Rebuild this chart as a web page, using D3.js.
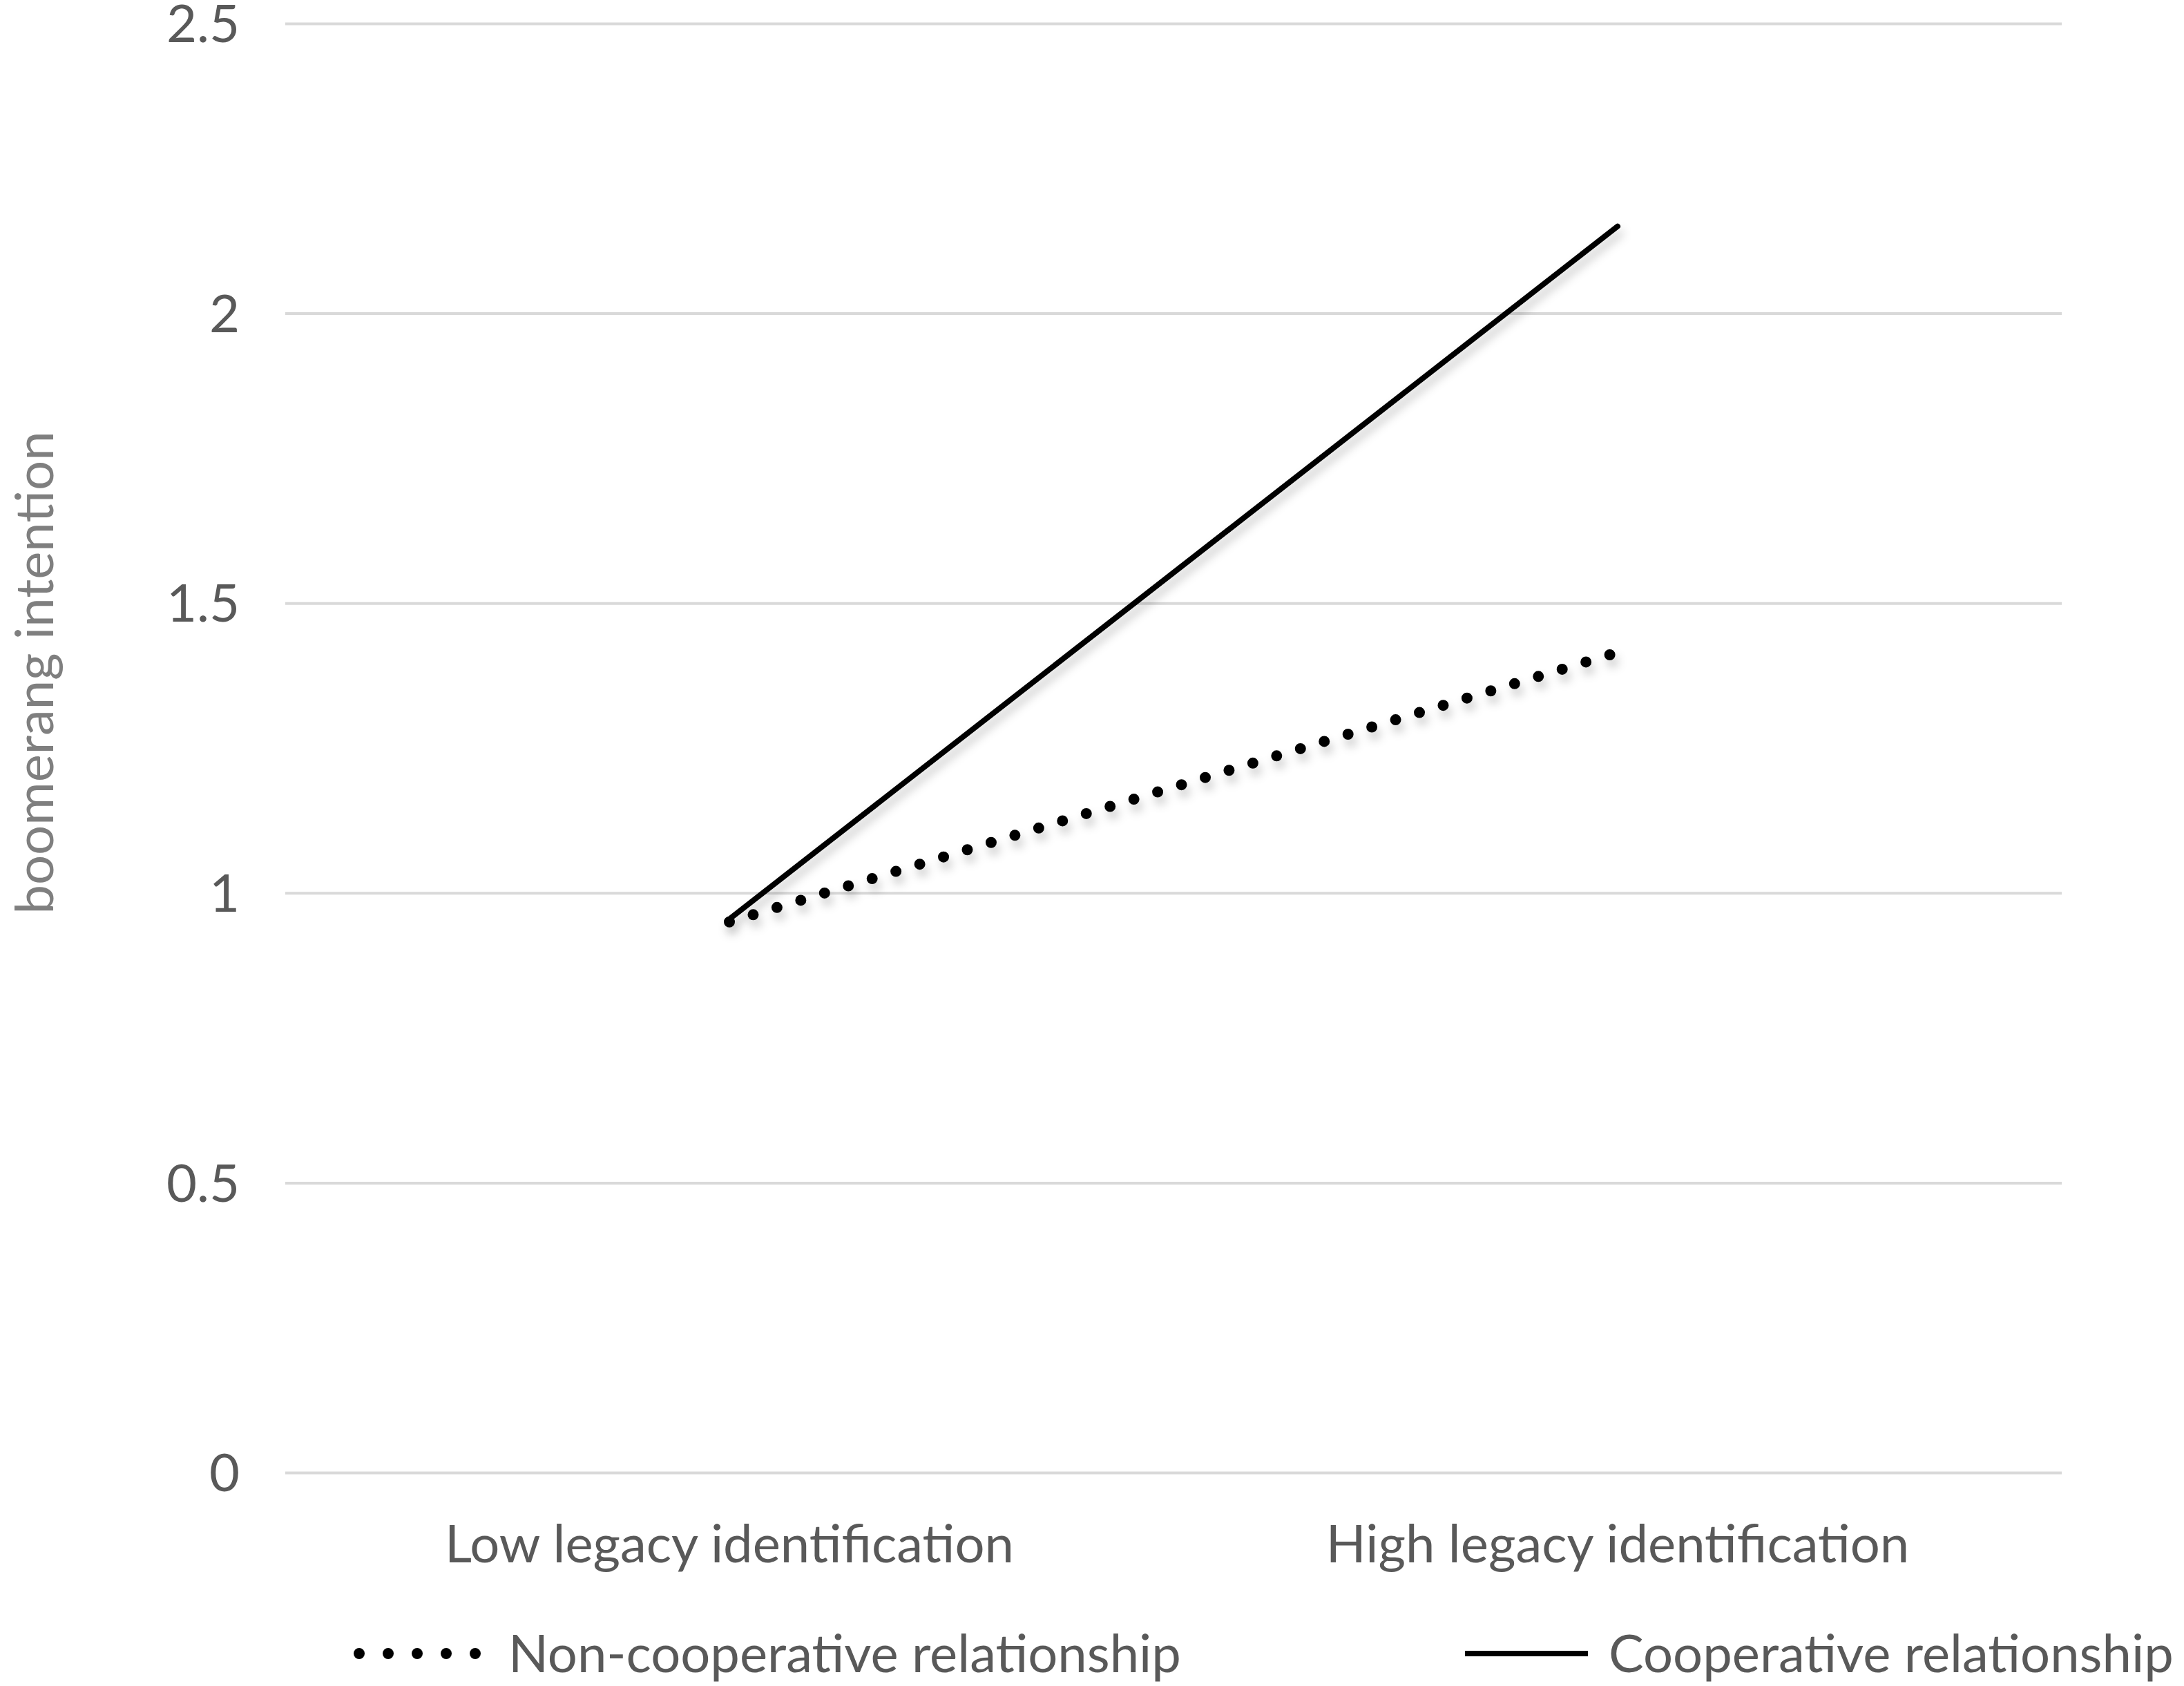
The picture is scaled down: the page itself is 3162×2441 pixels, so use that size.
<!DOCTYPE html>
<html><head><meta charset="utf-8">
<script src="https://cdn.jsdelivr.net/npm/d3@7"></script>
<style>html,body{margin:0;padding:0;background:#fff;}</style>
</head><body>
<script>
const categories = ["Low legacy identification", "High legacy identification"];
const seriesNames = ["Non-cooperative relationship", "Cooperative relationship"];
const nonCooperative = [0.95, 1.415];
const cooperative = [0.955, 2.15];
const yTicks = [0, 0.5, 1, 1.5, 2, 2.5];
const yTickLabels = ["0", "0.5", "1", "1.5", "2", "2.5"];
const yTitle = "boomerang intention";

(function(){
const W = 3162, H = 2441;
const FONT = "Lato, 'Open Sans', sans-serif";
const FS = 76;
const svg = d3.select("body").append("svg").attr("width", W).attr("height", H);
const defs = svg.append("defs");
const f = defs.append("filter").attr("id","sh").attr("x","-10%").attr("y","-10%").attr("width","130%").attr("height","140%");
f.append("feDropShadow").attr("dx",4).attr("dy",10).attr("stdDeviation",7).attr("flood-color","#000").attr("flood-opacity",0.22);

const pl = 413, pr = 2985, pt = 34, pb = 2132;
const x = d3.scaleBand().domain(categories).range([pl, pr]).padding(0);
const y = d3.scaleLinear().domain([0, 2.5]).range([pb, pt]);

const grid = svg.append("g").attr("transform", `translate(${pl},0)`)
  .call(d3.axisLeft(y).tickValues(yTicks).tickSize(-(pr-pl)).tickFormat(""));
grid.select(".domain").remove();
grid.selectAll("line").attr("stroke", "#d9d9d9").attr("stroke-width", 4);

const ya = svg.append("g").attr("transform", `translate(${pl-66},0)`)
  .call(d3.axisLeft(y).tickValues(yTicks).tickSize(0).tickPadding(0).tickFormat((d,i)=>yTickLabels[i]));
ya.select(".domain").remove();
ya.selectAll("text").attr("font-family", FONT).attr("font-size", FS).attr("fill", "#595959").attr("dy","0.35em");

const xa = svg.append("g").attr("transform", `translate(0,${pb + 8})`)
  .call(d3.axisBottom(x).tickSize(0).tickPadding(0));
xa.select(".domain").remove();
xa.selectAll("text").attr("font-family", FONT).attr("font-size", FS).attr("fill", "#595959").attr("dy", "1.6em");

svg.append("text").attr("transform", `translate(50,974) rotate(-90)`)
  .attr("text-anchor","middle").attr("dy","0.35em")
  .attr("font-family", FONT).attr("font-size", FS).attr("fill", "#7f7f7f").text(yTitle);

const line = d3.line().x((d,i)=>x(categories[i]) + x.bandwidth()/2).y(d=>y(d));
const series = [
  {name: seriesNames[0], values: nonCooperative, width: 16, dash: "0,36", legDash: "0,42"},
  {name: seriesNames[1], values: cooperative, width: 8, dash: null, legDash: null}
];
svg.append("g").selectAll("path").data(series).join("path")
  .attr("d", d=>line(d.values))
  .attr("fill","none").attr("stroke","#000")
  .attr("stroke-width", d=>d.width)
  .attr("stroke-linecap","round")
  .attr("stroke-dasharray", d=>d.dash)
  .attr("filter","url(#sh)");

const legY = 2394;
const leg = [
  {s: series[0], x0: 520, x1: 690, tx: 736},
  {s: series[1], x0: 2121, x1: 2299, tx: 2329}
];
const lg = svg.append("g");
lg.selectAll("line").data(leg).join("line")
  .attr("x1", d=>d.x0).attr("x2", d=>d.x1).attr("y1", legY).attr("y2", legY)
  .attr("stroke","#000").attr("stroke-width", d=>d.s.width)
  .attr("stroke-linecap", d=>d.s.legDash ? "round" : "butt")
  .attr("stroke-dasharray", d=>d.s.legDash);
lg.selectAll("text").data(leg).join("text")
  .attr("x", d=>d.tx).attr("y", legY).attr("dy","0.35em")
  .attr("font-family", FONT).attr("font-size", FS).attr("fill","#595959")
  .text(d=>d.s.name);
})();
</script>
</body></html>
